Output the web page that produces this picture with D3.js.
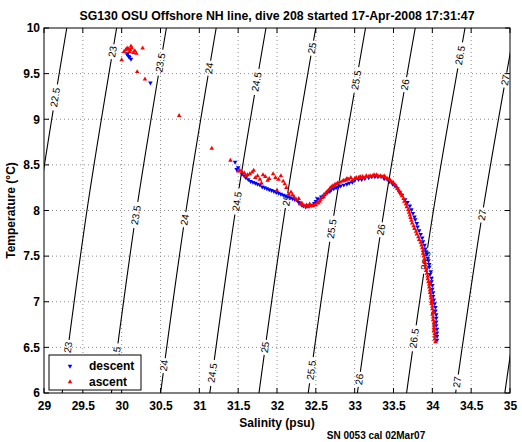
<!DOCTYPE html>
<html><head><meta charset="utf-8">
<script src="https://cdn.jsdelivr.net/npm/d3@7"></script>
<style>
body{margin:0;background:#fff;}
svg{display:block;font-family:"Liberation Sans",Arial,Helvetica,sans-serif;}
</style></head>
<body><svg id="c" width="522" height="442"></svg>
<script>
// ---- data ----
const titleText = "SG130 OSU Offshore NH line, dive 208 started 17-Apr-2008 17:31:47";
const xTicks = [29,29.5,30,30.5,31,31.5,32,32.5,33,33.5,34,34.5,35];
const yTicks = [6,6.5,7,7.5,8,8.5,9,9.5,10];
// sigma-t contour levels and their salinity at T = 6, 8, 10 °C
const contourLevels = [22.5,23,23.5,24,24.5,25,25.5,26,26.5,27,27.5];
const salAt6  = [28.600,29.234,29.868,30.501,31.135,31.768,32.402,33.035,33.668,34.300,34.933];
const salAt8  = [28.916,29.553,30.191,30.829,31.466,32.103,32.741,33.378,34.014,34.651,35.287];
const salAt10 = [29.293,29.935,30.576,31.217,31.858,32.499,33.140,33.780,34.421,35.061,35.701];
// contour label positions: level and temperature
const labelLevels = [22.5,23,23.5,24,24.5,25,25.5,26,26.5,27,
                     23.5,24,24.5,25,25.5,26,26.5,27,
                     23,23.5,24,24.5,25,25.5,26,26.5,27];
const labelTemps  = [9.24,9.74,9.62,9.56,9.41,9.78,9.43,9.38,9.70,9.43,
                     7.95,7.90,8.10,8.11,7.80,7.79,7.45,7.95,
                     6.50,6.40,6.30,6.22,6.50,6.25,6.15,6.60,6.12];
const descent = [
[30.07,9.71],[30.09,9.69],[30.10,9.68],[30.12,9.66],[30.08,9.72],[30.37,9.40],[31.46,8.53],
[31.48,8.45],[31.50,8.47],[31.55,8.40],[31.58,8.38],[31.60,8.36],[31.63,8.34],[31.66,8.32],[31.69,8.31],
[31.72,8.30],[31.75,8.29],[31.78,8.28],[31.81,8.26],[31.84,8.25],[31.87,8.24],[31.90,8.23],[31.93,8.22],
[31.96,8.21],[31.99,8.20],[32.02,8.19],[32.05,8.18],[32.08,8.17],[32.11,8.16],[32.14,8.15],[32.17,8.14],
[32.20,8.13],[32.23,8.12],[32.26,8.11],[32.28,8.09],[32.30,8.08],[32.32,8.06],[32.34,8.05],[32.37,8.04],
[32.40,8.05],[32.44,8.06],[32.48,8.08],[32.50,8.10],[32.52,8.13],[32.55,8.12],[32.57,8.15],[32.60,8.16],
[32.62,8.18],[32.65,8.20],[32.68,8.21],[32.70,8.23],[32.73,8.24],[32.76,8.25],[32.79,8.26],[32.82,8.27],
[32.86,8.28],[32.90,8.29],[32.93,8.30],[32.97,8.31],[33.00,8.33],[33.05,8.34],[33.09,8.34],[33.13,8.35],
[33.18,8.36],[33.22,8.37],[33.26,8.37],[33.30,8.37],[33.34,8.37],[33.38,8.35],[33.42,8.34],[33.45,8.32],
[33.49,8.29],[33.52,8.27],[33.55,8.24],[33.58,8.20],[33.61,8.17],[33.65,8.12],[33.68,8.09],[33.71,8.05],
[33.73,8.01],[33.75,7.97],[33.77,7.93],[33.78,7.90],[33.80,7.86],[33.81,7.82],[33.83,7.78],[33.85,7.74],
[33.87,7.70],[33.88,7.66],[33.90,7.62],[33.91,7.58],[33.92,7.55],[33.93,7.52],[33.94,7.48],[33.95,7.45],
[33.96,7.41],[33.96,7.38],[33.98,7.33],[33.97,7.30],[33.99,7.26],[33.99,7.22],[34.00,7.18],[34.00,7.14],
[34.01,7.10],[34.01,7.06],[34.02,7.02],[34.03,6.98],[34.04,6.94],[34.04,6.90],[34.05,6.86],[34.05,6.82],
[34.05,6.78],[34.05,6.74],[34.06,6.70],[34.06,6.66],[34.06,6.62],[34.06,6.58]];
const ascent = [
[30.05,9.76],[30.07,9.78],[30.09,9.77],[30.11,9.76],[30.13,9.78],[30.10,9.74],[30.15,9.73],[30.17,9.75],
[30.19,9.72],[30.03,9.74],[30.12,9.80],[30.27,9.78],[30.00,9.65],[30.20,9.52],[30.30,9.44],[30.74,9.04],
[31.16,8.68],[31.40,8.55],
[31.50,8.43],[31.52,8.44],[31.55,8.42],[31.58,8.41],[31.62,8.39],[31.65,8.40],[31.68,8.42],[31.70,8.44],
[31.72,8.36],[31.75,8.38],[31.78,8.34],[31.82,8.39],[31.85,8.37],[31.88,8.33],[31.90,8.35],[31.95,8.40],
[31.98,8.36],[32.02,8.34],[32.05,8.38],[32.08,8.32],[32.10,8.29],[32.12,8.25],[32.18,8.20],[32.20,8.17],
[31.60,8.38],[31.80,8.30],[32.00,8.22],[32.15,8.18],[32.22,8.15],[32.25,8.12],[32.28,8.13],
[32.30,8.07],[32.32,8.08],[32.33,8.06],[32.36,8.05],[32.38,8.06],[32.40,8.04],[32.42,8.07],[32.43,8.05],
[32.46,8.05],[32.48,8.06],[32.50,8.06],[32.52,8.09],[32.53,8.08],[32.55,8.10],[32.56,8.12],[32.58,8.14],
[32.60,8.15],[32.62,8.18],[32.64,8.20],[32.66,8.22],[32.68,8.24],[32.70,8.26],[32.72,8.27],[32.74,8.28],
[32.76,8.29],[32.78,8.30],[32.81,8.31],[32.84,8.32],[32.86,8.33],[32.88,8.33],[32.90,8.35],[32.92,8.34],
[32.95,8.36],[32.97,8.33],[33.00,8.35],[33.02,8.36],[33.05,8.36],[33.07,8.37],[33.10,8.37],[33.12,8.36],
[33.15,8.38],[33.18,8.37],[33.20,8.38],[33.23,8.38],[33.25,8.39],[33.28,8.39],[33.30,8.38],[33.33,8.38],
[33.35,8.37],[33.38,8.38],[33.40,8.36],[33.42,8.35],[33.44,8.34],[33.46,8.33],[33.48,8.31],[33.50,8.30],
[33.52,8.28],[33.54,8.26],[33.55,8.24],[33.57,8.22],[33.58,8.20],[33.60,8.18],[33.61,8.16],[33.63,8.13],
[33.64,8.10],[33.66,8.07],[33.67,8.04],[33.69,8.01],[33.70,7.98],[33.71,7.95],[33.72,7.92],[33.73,7.89],
[33.74,7.86],[33.76,7.83],[33.77,7.80],[33.79,7.77],[33.80,7.74],[33.82,7.71],[33.83,7.68],[33.85,7.65],
[33.86,7.62],[33.87,7.59],[33.88,7.56],[33.88,7.53],[33.89,7.50],[33.90,7.47],[33.90,7.44],[33.91,7.40],
[33.91,7.37],[33.92,7.34],[33.93,7.31],[33.94,7.28],[33.94,7.25],[33.95,7.22],[33.96,7.19],[33.96,7.16],
[33.97,7.13],[33.97,7.10],[33.98,7.07],[33.98,7.04],[33.99,7.01],[33.99,6.98],[34.00,6.95],[34.00,6.92],
[34.01,6.89],[34.00,6.86],[34.01,6.83],[34.01,6.80],[34.02,6.77],[34.02,6.74],[34.02,6.71],[34.02,6.68],
[34.03,6.65],[34.03,6.62],[34.03,6.59],[34.04,6.56],[34.03,6.70],[34.01,6.88],[33.99,7.00],[33.97,7.20]];
const seriesNames = ["descent","ascent"];
const seriesColors = ["#0000ff","#ff0000"];
const xLabelText = "Salinity (psu)";
const yLabelText = "Temperature (\u00B0C)";
const footText = "SN 0053 cal 02Mar07";

// ---- layout ----
const L=44,R=510,T=28,B=393;
const svg=d3.select("#c");
const x=d3.scaleLinear().domain([29,35]).range([L,R]);
const y=d3.scaleLinear().domain([6,10]).range([B,T]);

const defs=svg.append("defs");
defs.append("clipPath").attr("id","clip")
  .append("rect").attr("x",L).attr("y",T).attr("width",R-L).attr("height",B-T);

// grid
const grid=svg.append("g").attr("stroke","#8c8c8c").attr("stroke-width",1).attr("stroke-dasharray","1,3");
xTicks.slice(1,-1).forEach(v=>grid.append("line").attr("x1",x(v)).attr("x2",x(v)).attr("y1",T).attr("y2",B));
yTicks.slice(1,-1).forEach(v=>grid.append("line").attr("y1",y(v)).attr("y2",y(v)).attr("x1",L).attr("x2",R));

// contour helpers
function salOf(i,t){ // quadratic through the three sampled temperatures
  const s0=salAt6[i],s1=salAt8[i],s2=salAt10[i];
  const u=(t-8)/2;
  return s1 + u*(s2-s0)/2 + u*u*(s2-2*s1+s0)/2;
}
const mask=defs.append("mask").attr("id","lblmask").attr("maskUnits","userSpaceOnUse");
mask.append("rect").attr("x",0).attr("y",0).attr("width",522).attr("height",442).attr("fill","#fff");

const labels=labelLevels.map((lv,k)=>{
  const i=contourLevels.indexOf(lv);
  const t=labelTemps[k];
  const px=x(salOf(i,t)), py=y(t);
  const dx=x(salOf(i,t+0.1))-px, dy=y(t+0.1)-py;
  const ang=Math.atan2(dy,dx)*180/Math.PI;
  return {px,py,ang,txt:String(lv)};
});
labels.forEach(d=>{
  const w=d.txt.length*5.6+4;
  mask.append("rect").attr("x",-w/2).attr("y",-5).attr("width",w).attr("height",10)
    .attr("fill","#000").attr("transform",`translate(${d.px},${d.py}) rotate(${d.ang})`);
});

const cg=svg.append("g").attr("clip-path","url(#clip)");
const line=d3.line().x(d=>x(d[0])).y(d=>y(d[1])).curve(d3.curveNatural);
const cl=cg.append("g").attr("mask","url(#lblmask)");
contourLevels.forEach((lv,i)=>{
  const pts=[[salAt6[i],6],[salAt8[i],8],[salAt10[i],10]];
  cl.append("path").attr("d",line(pts)).attr("fill","none").attr("stroke","#000").attr("stroke-width",1.1);
});
labels.forEach(d=>{
  cg.append("text").attr("transform",`translate(${d.px},${d.py}) rotate(${d.ang})`)
    .attr("text-anchor","middle").attr("dy","0.35em").attr("font-size",10).text(d.txt);
});

// data markers
const tri=d3.symbol().type(d3.symbolTriangle).size(9);
const pg=svg.append("g").attr("clip-path","url(#clip)");
pg.selectAll(".d").data(descent).join("path").attr("class","d")
  .attr("d",tri).attr("fill",seriesColors[0])
  .attr("transform",d=>`translate(${x(d[0])},${y(d[1])}) rotate(180)`);
pg.selectAll(".a").data(ascent).join("path").attr("class","a")
  .attr("d",tri).attr("fill",seriesColors[1])
  .attr("transform",d=>`translate(${x(d[0])},${y(d[1])})`);

// axes box with inward ticks
const ax=svg.append("g");
ax.append("rect").attr("x",L).attr("y",T).attr("width",R-L).attr("height",B-T)
  .attr("fill","none").attr("stroke","#000").attr("stroke-width",1);
xTicks.forEach(v=>{
  ax.append("line").attr("x1",x(v)).attr("x2",x(v)).attr("y1",B).attr("y2",B-5).attr("stroke","#000");
  ax.append("line").attr("x1",x(v)).attr("x2",x(v)).attr("y1",T).attr("y2",T+5).attr("stroke","#000");
});
yTicks.forEach(v=>{
  ax.append("line").attr("y1",y(v)).attr("y2",y(v)).attr("x1",L).attr("x2",L+5).attr("stroke","#000");
  ax.append("line").attr("y1",y(v)).attr("y2",y(v)).attr("x1",R).attr("x2",R-5).attr("stroke","#000");
});
const xa=d3.axisBottom(x).tickValues(xTicks).tickSize(0).tickPadding(8).tickFormat(d3.format("~g"));
svg.append("g").attr("transform",`translate(0,${B})`).call(xa)
  .call(g=>g.select(".domain").remove())
  .selectAll("text").attr("font-size",12).attr("font-weight","bold").attr("font-family","Liberation Sans, Arial, sans-serif").attr("fill","#000");
const ya=d3.axisLeft(y).tickValues(yTicks).tickSize(0).tickPadding(4).tickFormat(d3.format("~g"));
svg.append("g").attr("transform",`translate(${L},0)`).call(ya)
  .call(g=>g.select(".domain").remove())
  .selectAll("text").attr("font-size",12).attr("font-weight","bold").attr("font-family","Liberation Sans, Arial, sans-serif").attr("fill","#000");

// texts
svg.append("text").attr("x",277).attr("y",20).attr("text-anchor","middle")
  .attr("font-size",12.3).attr("font-weight","bold").text(titleText);
svg.append("text").attr("x",277).attr("y",427).attr("text-anchor","middle")
  .attr("font-size",12).attr("font-weight","bold").text(xLabelText);
svg.append("text").attr("transform",`translate(15,${(T+B)/2}) rotate(-90)`).attr("text-anchor","middle")
  .attr("font-size",12).attr("font-weight","bold").text(yLabelText);
svg.append("text").attr("x",376).attr("y",439).attr("text-anchor","middle")
  .attr("font-size",10).attr("font-weight","bold").text(footText);

// legend
const lg=svg.append("g");
lg.append("rect").attr("x",49).attr("y",355).attr("width",92).attr("height",35)
  .attr("fill","#fff").attr("stroke","#000");
seriesNames.forEach((n,k)=>{
  const yy=366+k*16;
  lg.append("path").attr("d",tri).attr("fill",seriesColors[k])
    .attr("transform",`translate(70,${yy})`+(k===0?" rotate(180)":""));
  lg.append("text").attr("x",89).attr("y",yy).attr("dy","0.35em").attr("font-size",12)
    .attr("font-weight","bold").text(n);
});
</script></body></html>
